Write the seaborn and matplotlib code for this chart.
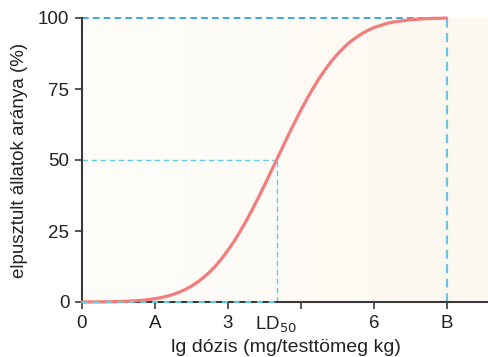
import numpy as np
import pandas as pd
import matplotlib
matplotlib.use("Agg")
import matplotlib.pyplot as plt
import seaborn as sns
from matplotlib.colors import LinearSegmentedColormap

# Dose-response curve: log dose vs. share of animals killed (%)
log_dose = [0.0, 0.125, 0.25, 0.375, 0.5, 0.625, 0.75, 0.875, 1.0, 1.125,
            1.25, 1.375, 1.5, 1.625, 1.75, 1.875, 2.0, 2.125, 2.25, 2.375,
            2.5, 2.625, 2.75, 2.875, 3.0, 3.125, 3.25, 3.375, 3.5, 3.625,
            3.75, 3.875, 4.0, 4.125, 4.25, 4.375, 4.5, 4.625, 4.75, 4.875,
            5.0, 5.125, 5.25, 5.375, 5.5, 5.625, 5.75, 5.875, 6.0, 6.125,
            6.25, 6.375, 6.5, 6.625, 6.75, 6.875, 7.0, 7.125, 7.25, 7.375, 7.5]
mortality = [0.01, 0.02, 0.03, 0.05, 0.07, 0.11, 0.16, 0.22, 0.32, 0.45,
             0.62, 0.85, 1.16, 1.54, 2.03, 2.67, 3.45, 4.41, 5.57, 6.98,
             8.64, 10.56, 12.76, 15.32, 18.2, 21.3, 24.8, 28.5, 32.5, 36.7,
             41.0, 45.5, 50.0, 54.5, 59.0, 63.3, 67.5, 71.5, 75.2, 78.7,
             81.8, 84.7, 87.2, 89.4, 91.4, 93.0, 94.4, 95.6, 96.6, 97.3,
             98.0, 98.5, 98.8, 99.1, 99.4, 99.5, 99.7, 99.8, 99.9, 99.9, 100.0]

ld50 = 4.0
dose_b = 7.5
x_ticks = [0, 1.5, 3, 4.5, 6, 7.5]
x_tick_labels = ["0", "A", "3", "", "6", "B"]
y_ticks = [0, 25, 50, 75, 100]

df = pd.DataFrame({"dose": log_dose, "mortality": mortality})

sns.set_style("ticks")
plt.rcParams["font.family"] = ["Liberation Sans", "DejaVu Sans"]

fig = plt.figure(figsize=(4.89, 3.57), dpi=100)
ax = fig.add_axes([82 / 489, 55 / 357, 1 - 82 / 489, 284 / 357])

x_max = 8.37
ax.set_xlim(0, x_max)
ax.set_ylim(0, 100)

# soft cream background, slightly warmer toward the right
cmap = LinearSegmentedColormap.from_list("bg", ["#fefdfa", "#fdfbf6", "#fef8ee"])
grad = np.linspace(0, 1, 256).reshape(1, -1)
ax.imshow(grad, cmap=cmap, aspect="auto", extent=[0, x_max, 0, 100],
          zorder=0, interpolation="bicubic")

# guide lines
ax.plot([0, ld50], [50, 50], ls=(0, (4, 2.5)), color="#5fcfe0", lw=1.0, zorder=2)
ax.plot([ld50, ld50], [0, 50], ls=(0, (4, 2.5)), color="#5fcfe0", lw=1.0, zorder=2)
ax.plot([0, dose_b], [100, 100], ls=(0, (4, 2.5)), color="#1d9ad6", lw=1.2,
        zorder=2, clip_on=False)
ax.plot([dose_b, dose_b], [0, 100], ls=(0, (4, 2.5)), color="#6cc2e2", lw=1.6,
        zorder=2)

sns.lineplot(data=df, x="dose", y="mortality", ax=ax, color="#f37c7c",
             lw=2.3, zorder=3, clip_on=False)

ax.plot([0, ld50], [0, 0], ls=(0, (3, 3)), color="#5fcfe0", lw=1.4,
        zorder=4, clip_on=False)

for side in ("top", "right"):
    ax.spines[side].set_visible(False)
for side in ("left", "bottom"):
    ax.spines[side].set_color("#3a3a3a")
    ax.spines[side].set_linewidth(1.5)

ax.set_xticks(x_ticks)
ax.set_xticklabels(x_tick_labels)
ax.set_xticks([ld50], minor=True)
ax.set_xticklabels(["LD$_{50}$"], minor=True)
ax.tick_params(axis="x", which="minor", length=0, pad=9, labelsize=13.5,
               labelcolor="#222222")
ax.set_yticks(y_ticks)
ax.tick_params(axis="both", which="major", length=5, width=1.2, color="#3a3a3a",
               labelsize=13.5, labelcolor="#222222", pad=4)

ax.set_xlabel("lg dózis (mg/testtömeg kg)", fontsize=14, color="#222222",
              labelpad=3)
ax.set_ylabel("elpusztult állatok aránya (%)", fontsize=13.5, color="#222222",
              labelpad=7)

fig.savefig("out.png", dpi=100)
